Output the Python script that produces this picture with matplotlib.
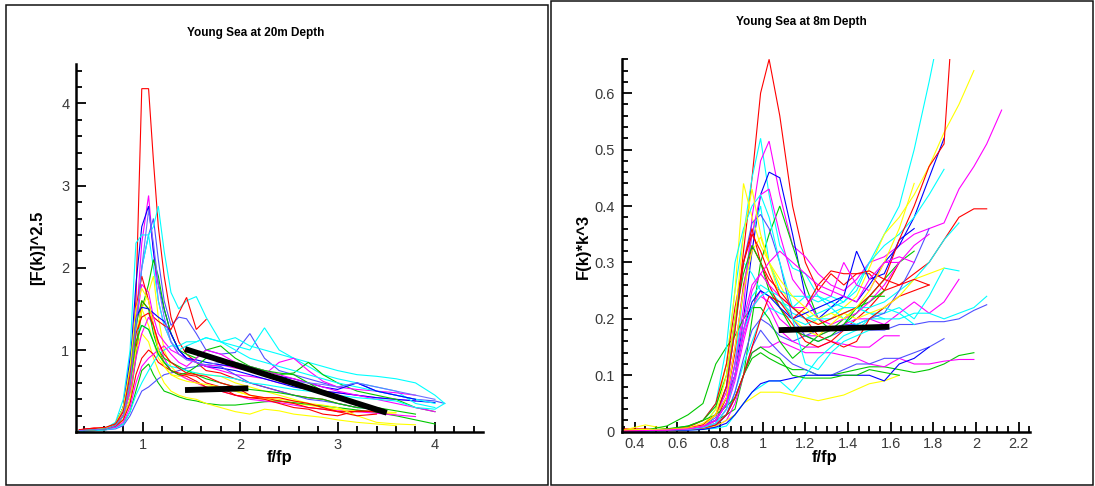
import matplotlib
matplotlib.use("Agg")
import matplotlib.pyplot as plt
from matplotlib.ticker import MultipleLocator, FixedLocator, FuncFormatter
from matplotlib.patches import Rectangle

plt.rcParams['font.family'] = ['Liberation Sans', 'DejaVu Sans']

# ---------------- data: left panel (20 m depth) ----------------
left_title = "Young Sea at 20m Depth"
left_ylabel = "[F(k)]^2.5"
left_xlabel = "f/fp"
XL = [0.35, 0.5, 0.62, 0.72, 0.8, 0.87, 0.93, 0.99, 1.06, 1.11, 1.16, 1.22, 1.29, 1.37, 1.45,
      1.55, 1.65, 1.8, 1.95, 2.1, 2.25, 2.4, 2.55, 2.7, 2.85, 3.0, 3.2, 3.4, 3.6, 3.8, 4.0, 4.1]
L01 = [0.03, 0.05, 0.04, 0.08, 0.2, 0.5, 1.6, 4.18, 4.18, 3.3, 2.5, 1.9, 1.4, 1.1, 0.95, 0.85, 0.75, 0.72, 0.65, 0.6, 0.55, 0.5, 0.45, 0.42, 0.4, 0.35, 0.3]
L02 = [0.02, 0.03, 0.05, 0.1, 0.25, 0.6, 1.3, 2.3, 2.88, 2.2, 1.6, 1.3, 1.1, 0.95, 0.9, 0.85, 0.8, 0.75, 0.7, 0.68, 0.65, 0.6, 0.58, 0.55, 0.5, 0.48, 0.45, 0.42, 0.4, 0.38]
L03 = [0.02, 0.03, 0.04, 0.1, 0.3, 0.8, 1.8, 2.5, 2.75, 2.2, 1.8, 1.5, 1.2, 1.0, 0.9, 0.85, 0.8, 0.78, 0.75, 0.7, 0.65, 0.6, 0.55, 0.52, 0.5, 0.48, 0.45, 0.42, 0.4, 0.38, 0.36]
L04 = [0.02, 0.02, 0.03, 0.06, 0.2, 0.5, 1.2, 2.0, 2.4, 2.6, 2.1, 1.6, 1.3, 1.4, 1.38, 1.2, 1.0, 0.95, 0.97, 1.2, 0.9, 0.75, 0.7, 0.65, 0.6, 0.55, 0.6, 0.5, 0.45, 0.4, 0.38, 0.35]
L05 = [0.02, 0.03, 0.04, 0.08, 0.2, 0.5, 1.2, 2.0, 2.4, 2.5, 2.75, 2.2, 1.7, 1.5, 1.6, 1.65, 1.4, 1.1, 1.15, 1.05, 1.0, 0.95, 0.9, 0.85, 0.8, 0.75, 0.7, 0.68, 0.65, 0.6, 0.45, 0.35]
L06 = [0.02, 0.03, 0.05, 0.12, 0.4, 1.0, 2.3, 2.4, 2.4, 2.0, 1.6, 1.3, 1.1, 1.0, 1.05, 1.1, 1.15, 1.1, 1.05, 1.0, 1.27, 1.0, 0.9, 0.8, 0.7, 0.65, 0.6, 0.55, 0.5, 0.35, 0.3]
L07 = [0.02, 0.03, 0.04, 0.07, 0.15, 0.4, 0.9, 1.5, 1.8, 2.1, 1.9, 1.5, 1.2, 1.0, 0.95, 0.9, 1.0, 1.05, 0.9, 0.8, 0.75, 0.7, 0.72, 0.85, 0.7, 0.6, 0.5, 0.45, 0.4, 0.3, 0.25]
L08 = [0.02, 0.02, 0.03, 0.06, 0.15, 0.4, 1.0, 1.5, 1.7, 1.9, 1.4, 1.0, 0.8, 0.7, 0.65, 0.6, 0.55, 0.55, 0.5, 0.45, 0.4, 0.38, 0.35, 0.33, 0.3, 0.28, 0.26, 0.25, 0.24]
L09 = [0.03, 0.04, 0.05, 0.1, 0.2, 0.5, 1.0, 1.6, 1.5, 1.4, 1.35, 1.3, 1.25, 1.45, 1.64, 1.25, 1.37]
L10 = [0.02, 0.03, 0.04, 0.08, 0.2, 0.6, 1.2, 1.5, 1.3, 1.1, 0.9, 0.8, 0.7, 0.68, 0.7, 0.72, 0.7, 0.68, 0.6, 0.55, 0.5, 0.45, 0.4, 0.35, 0.3, 0.27, 0.25, 0.24, 0.22]
L11 = [0.02, 0.03, 0.04, 0.06, 0.1, 0.25, 0.5, 0.75, 0.83, 0.7, 0.6, 0.5, 0.47, 0.43, 0.4, 0.38, 0.35, 0.33, 0.33, 0.35, 0.37, 0.38, 0.36, 0.34, 0.32, 0.3, 0.27, 0.24, 0.2, 0.15, 0.1]
L12 = [0.01, 0.02, 0.03, 0.04, 0.08, 0.2, 0.35, 0.5, 0.55, 0.6, 0.65, 0.7, 0.72, 0.75, 0.78, 0.8, 0.82, 0.8, 0.7, 0.6, 0.55, 0.5, 0.45, 0.4, 0.38, 0.35, 0.3, 0.28]
L13 = [0.02, 0.03, 0.04, 0.08, 0.2, 0.5, 1.0, 1.2, 1.1, 0.9, 0.75, 0.6, 0.5, 0.45, 0.42, 0.4, 0.35, 0.3, 0.25, 0.22, 0.28, 0.26, 0.22, 0.2, 0.18, 0.15, 0.12, 0.1, 0.08]
L14 = [0.03, 0.04, 0.05, 0.1, 0.25, 0.7, 1.3, 1.8, 1.7, 1.4, 1.2, 1.1, 1.0, 0.95, 0.9, 0.85, 0.8, 0.82, 0.78, 0.75, 0.7, 0.85, 0.9, 0.75, 0.62, 0.55, 0.52, 0.5, 0.48, 0.45]
L15 = [0.02, 0.03, 0.04, 0.08, 0.2, 0.5, 0.9, 1.2, 1.4, 1.3, 1.1, 0.9, 0.75, 0.7, 0.65, 0.6, 0.55, 0.5, 0.45, 0.4, 0.38, 0.36, 0.33, 0.3, 0.28, 0.26, 0.25, 0.23, 0.21, 0.19]
L16 = [0.02, 0.03, 0.04, 0.07, 0.15, 0.35, 0.7, 0.9, 1.0, 0.95, 0.85, 0.8, 0.75, 0.72, 0.7, 0.68, 0.6, 0.55, 0.45, 0.42, 0.42, 0.38, 0.35, 0.3, 0.28, 0.25, 0.25, 0.26]
L17 = [0.03, 0.04, 0.05, 0.1, 0.3, 0.8, 1.5, 1.9, 1.6, 1.3, 1.0, 0.85, 0.75, 0.7, 0.68, 0.62, 0.55, 0.5, 0.45, 0.42, 0.4, 0.35, 0.3, 0.28, 0.22, 0.2, 0.26, 0.25]
L18 = [0.01, 0.02, 0.03, 0.05, 0.1, 0.25, 0.45, 0.6, 0.75, 0.85, 0.95, 1.0, 1.05, 1.05, 1.1, 1.1, 1.15, 1.1, 1.0, 0.9, 0.85, 0.8, 0.75, 0.7, 0.65, 0.6, 0.55, 0.5, 0.45, 0.4, 0.35]
L19 = [0.02, 0.03, 0.05, 0.1, 0.3, 0.8, 1.3, 1.6, 1.5, 1.2, 1.0, 0.9, 0.85, 0.8, 0.75, 0.7, 0.65, 0.6, 0.55, 0.52, 0.5, 0.48, 0.45, 0.42, 0.4, 0.35, 0.3, 0.28]
L20 = [0.02, 0.03, 0.04, 0.1, 0.3, 0.9, 1.4, 1.52, 1.5, 1.45, 1.4, 1.35, 1.2, 1.0, 0.9, 0.88, 0.85, 0.82, 0.8, 0.75, 0.7, 0.68, 0.65, 0.6, 0.55, 0.52, 0.6, 0.5, 0.45, 0.4]
L21 = [0.02, 0.03, 0.04, 0.06, 0.12, 0.3, 0.6, 0.8, 0.9, 0.95, 1.0, 1.05, 0.95, 0.85, 0.8, 0.9, 1.0, 0.95, 0.85, 0.8, 0.75, 0.7, 0.65, 0.6, 0.55, 0.5, 0.45, 0.4, 0.35, 0.3, 0.25]
L22 = [0.02, 0.03, 0.05, 0.1, 0.3, 0.7, 1.2, 1.3, 1.25, 1.1, 0.95, 0.85, 0.8, 0.78, 0.75, 0.72, 0.7, 0.68, 0.65, 0.6, 0.58, 0.55, 0.52, 0.5, 0.48, 0.45, 0.42, 0.4, 0.38, 0.3, 0.28, 0.35]
L23 = [0.02, 0.03, 0.05, 0.1, 0.3, 0.8, 1.5, 1.75, 1.6, 1.3, 1.0, 0.8, 0.7, 0.65, 0.62, 0.6, 0.58, 0.55, 0.5, 0.45, 0.42, 0.4, 0.38, 0.35, 0.33, 0.3, 0.2, 0.12, 0.1, 0.09]
L24 = [0.02, 0.03, 0.04, 0.08, 0.2, 0.6, 1.1, 1.3, 1.25, 1.1, 0.95, 0.85, 0.75, 0.7, 0.72, 0.8, 0.9, 0.88, 0.85, 0.8, 0.75, 0.72, 0.7, 0.6, 0.5, 0.4, 0.35, 0.3, 0.26, 0.22]
L25 = [0.03, 0.05, 0.06, 0.1, 0.25, 0.7, 1.2, 1.4, 1.45, 1.3, 1.1, 0.95, 0.85, 0.78, 0.72, 0.7, 0.68, 0.6, 0.55, 0.45, 0.42, 0.42, 0.38, 0.35, 0.3, 0.25, 0.2, 0.22]
L26 = [0.02, 0.03, 0.04, 0.08, 0.2, 0.6, 1.3, 2.0, 2.7, 2.3, 1.8, 1.4, 1.1, 0.95, 0.88, 0.85, 0.82, 0.85, 0.8, 0.75, 0.7, 0.65, 0.62, 0.6, 0.58, 0.55, 0.6, 0.55, 0.5, 0.45, 0.4]
left_series = [L01, L02, L03, L04, L05, L06, L07, L08, L09, L10, L11, L12, L13,
               L14, L15, L16, L17, L18, L19, L20, L21, L22, L23, L24, L25, L26]
left_colors = ["red", "magenta", "blue", "blue2", "cyan", "cyan", "green", "yellow", "red",
               "yellow", "green", "blue2", "yellow", "magenta", "magenta", "red", "red", "cyan",
               "green", "blue", "magenta", "cyan", "yellow", "green", "red", "violet"]
# black reference lines (x pair, y pair)
left_fit1_x = [1.434, 3.505]
left_fit1_y = [1.012, 0.237]
left_fit2_x = [1.434, 2.084]
left_fit2_y = [0.513, 0.534]
left_xticks = [1, 2, 3, 4]
left_yticks = [1, 2, 3, 4]

# ---------------- data: right panel (8 m depth) ----------------
right_title = "Young Sea at 8m Depth"
right_ylabel = "F(k)*k^3"
right_xlabel = "f/fp"
XR = [0.35, 0.45, 0.55, 0.65, 0.72, 0.78, 0.83, 0.87, 0.91, 0.95, 0.99, 1.03, 1.08, 1.14, 1.2,
      1.26, 1.32, 1.38, 1.44, 1.5, 1.57, 1.64, 1.71, 1.78, 1.85, 1.92, 1.99, 2.05, 2.12]
R01 = [0.005, 0.005, 0.003, 0.005, 0.01, 0.03, 0.08, 0.18, 0.32, 0.45, 0.6, 0.66, 0.56, 0.4, 0.3, 0.25, 0.28, 0.26, 0.28, 0.28, 0.25, 0.3]
R02 = [0.0, 0.002, 0.003, 0.006, 0.01, 0.04, 0.12, 0.25, 0.35, 0.45, 0.52, 0.42, 0.33, 0.29, 0.28, 0.24, 0.22, 0.23, 0.25, 0.3, 0.35, 0.4, 0.5, 0.62, 0.75]
R03 = [0.002, 0.003, 0.003, 0.005, 0.01, 0.02, 0.05, 0.12, 0.22, 0.38, 0.48, 0.515, 0.42, 0.33, 0.31, 0.28, 0.26, 0.25, 0.27, 0.3, 0.31, 0.33, 0.35, 0.36, 0.37, 0.43, 0.47, 0.51, 0.57]
R04 = [0.002, 0.002, 0.004, 0.006, 0.01, 0.03, 0.06, 0.1, 0.2, 0.32, 0.42, 0.46, 0.45, 0.35, 0.24, 0.2, 0.22, 0.24, 0.23, 0.26, 0.3, 0.33, 0.38, 0.45, 0.52]
R05 = [0.003, 0.012, 0.005, 0.004, 0.01, 0.04, 0.12, 0.25, 0.44, 0.38, 0.33, 0.3, 0.26, 0.22, 0.21, 0.19, 0.2, 0.22, 0.24, 0.29, 0.35, 0.38, 0.42, 0.47, 0.53, 0.58, 0.64]
R06 = [0.002, 0.003, 0.004, 0.006, 0.01, 0.02, 0.03, 0.04, 0.1, 0.2, 0.3, 0.35, 0.4, 0.33, 0.26, 0.2, 0.18, 0.19, 0.21, 0.24, 0.27, 0.3, 0.32]
R07 = [0.003, 0.004, 0.003, 0.004, 0.008, 0.02, 0.06, 0.14, 0.26, 0.33, 0.3, 0.27, 0.25, 0.22, 0.2, 0.17, 0.16, 0.18, 0.2, 0.22, 0.25, 0.26, 0.28, 0.3, 0.34, 0.38, 0.395, 0.395]
R08 = [0.002, 0.003, 0.004, 0.005, 0.01, 0.02, 0.05, 0.12, 0.25, 0.35, 0.4, 0.3, 0.25, 0.24, 0.24, 0.23, 0.24, 0.23, 0.26, 0.3, 0.33, 0.35, 0.38, 0.42, 0.465]
R09 = [0.001, 0.002, 0.003, 0.005, 0.01, 0.03, 0.08, 0.18, 0.3, 0.28, 0.25, 0.24, 0.23, 0.21, 0.2, 0.2, 0.2, 0.21, 0.22, 0.22, 0.23, 0.25, 0.27, 0.3, 0.34, 0.37]
R10 = [0.001, 0.002, 0.003, 0.005, 0.008, 0.02, 0.05, 0.12, 0.2, 0.24, 0.26, 0.25, 0.23, 0.22, 0.24, 0.24, 0.23, 0.22, 0.22, 0.21, 0.21, 0.22, 0.2, 0.24, 0.29, 0.285]
R11 = [0.001, 0.002, 0.003, 0.004, 0.007, 0.015, 0.04, 0.1, 0.17, 0.22, 0.24, 0.23, 0.2, 0.18, 0.17, 0.17, 0.18, 0.19, 0.2, 0.2, 0.19, 0.21, 0.23, 0.21, 0.23, 0.27]
R12 = [0.001, 0.002, 0.003, 0.004, 0.006, 0.012, 0.03, 0.07, 0.12, 0.16, 0.2, 0.22, 0.21, 0.2, 0.19, 0.2, 0.21, 0.22, 0.22, 0.21, 0.2, 0.2, 0.21, 0.21, 0.2, 0.21, 0.22, 0.24]
R13 = [0.001, 0.002, 0.003, 0.004, 0.006, 0.012, 0.03, 0.07, 0.13, 0.18, 0.2, 0.19, 0.17, 0.16, 0.17, 0.18, 0.18, 0.19, 0.19, 0.18, 0.18, 0.19, 0.19, 0.195, 0.195, 0.2, 0.215, 0.225]
R14 = [0.001, 0.002, 0.003, 0.004, 0.006, 0.01, 0.03, 0.06, 0.1, 0.13, 0.14, 0.13, 0.12, 0.11, 0.11, 0.1, 0.1, 0.105, 0.11, 0.115, 0.115, 0.11, 0.105, 0.11, 0.12, 0.135, 0.14]
R15 = [0.001, 0.002, 0.002, 0.003, 0.005, 0.01, 0.02, 0.05, 0.1, 0.14, 0.15, 0.15, 0.16, 0.15, 0.14, 0.14, 0.14, 0.135, 0.13, 0.12, 0.115, 0.13, 0.12, 0.12, 0.125, 0.128, 0.128]
R16 = [0.001, 0.002, 0.003, 0.004, 0.006, 0.01, 0.03, 0.06, 0.1, 0.15, 0.18, 0.16, 0.14, 0.12, 0.11, 0.1, 0.1, 0.11, 0.12, 0.12, 0.13, 0.13, 0.14, 0.15, 0.165]
R17 = [0.002, 0.003, 0.003, 0.004, 0.005, 0.01, 0.02, 0.03, 0.05, 0.06, 0.07, 0.07, 0.07, 0.065, 0.06, 0.055, 0.06, 0.065, 0.075, 0.085, 0.09, 0.1]
R18 = [0.001, 0.001, 0.002, 0.003, 0.004, 0.006, 0.01, 0.03, 0.05, 0.07, 0.08, 0.09, 0.09, 0.07, 0.1, 0.13, 0.15, 0.17, 0.18, 0.2, 0.2]
R19 = [0.001, 0.002, 0.002, 0.003, 0.004, 0.008, 0.015, 0.03, 0.05, 0.07, 0.085, 0.09, 0.09, 0.095, 0.1, 0.1, 0.1, 0.1, 0.1, 0.1, 0.09, 0.12, 0.13, 0.15]
R20 = [0.002, 0.003, 0.01, 0.03, 0.05, 0.12, 0.15, 0.17, 0.2, 0.22, 0.22, 0.2, 0.16, 0.13, 0.15, 0.17, 0.18, 0.2, 0.22, 0.23, 0.25]
R21 = [0.001, 0.002, 0.004, 0.01, 0.02, 0.03, 0.045, 0.06, 0.1, 0.14, 0.15, 0.14, 0.13, 0.1, 0.095, 0.095, 0.095, 0.1, 0.1, 0.11, 0.105, 0.1]
R22 = [0.001, 0.002, 0.003, 0.005, 0.008, 0.015, 0.04, 0.09, 0.16, 0.22, 0.25, 0.22, 0.18, 0.16, 0.15, 0.15, 0.16, 0.155, 0.15, 0.15, 0.17, 0.17]
R23 = [0.002, 0.002, 0.003, 0.005, 0.01, 0.025, 0.08, 0.2, 0.3, 0.37, 0.385, 0.36, 0.3, 0.2, 0.17, 0.16, 0.17, 0.18, 0.19, 0.2, 0.21, 0.25, 0.3, 0.36]
R24 = [0.002, 0.003, 0.004, 0.006, 0.012, 0.03, 0.07, 0.15, 0.25, 0.35, 0.42, 0.43, 0.35, 0.27, 0.24, 0.2, 0.19, 0.2, 0.21, 0.23, 0.26, 0.3, 0.33, 0.35]
R25 = [0.001, 0.002, 0.004, 0.008, 0.02, 0.05, 0.15, 0.3, 0.36, 0.4, 0.42, 0.38, 0.3, 0.22, 0.2, 0.21, 0.22, 0.2, 0.19, 0.2, 0.22, 0.21, 0.19]
R26 = [0.002, 0.003, 0.004, 0.008, 0.02, 0.05, 0.12, 0.22, 0.3, 0.36, 0.3, 0.26, 0.22, 0.19, 0.16, 0.15, 0.16, 0.15, 0.16, 0.2, 0.22, 0.24, 0.25, 0.26]
R27 = [0.002, 0.003, 0.004, 0.007, 0.015, 0.03, 0.06, 0.15, 0.25, 0.32, 0.345, 0.3, 0.24, 0.2, 0.18, 0.17, 0.19, 0.21, 0.2, 0.21, 0.22, 0.24, 0.27, 0.28, 0.29]
R28 = [0.002, 0.003, 0.005, 0.01, 0.02, 0.045, 0.1, 0.2, 0.28, 0.33, 0.3, 0.25, 0.22, 0.18, 0.17, 0.16, 0.17, 0.19, 0.22, 0.24, 0.24]
R29 = [0.001, 0.002, 0.003, 0.005, 0.01, 0.02, 0.05, 0.1, 0.18, 0.23, 0.25, 0.24, 0.22, 0.2, 0.21, 0.22, 0.23, 0.24, 0.32, 0.27, 0.28, 0.34, 0.36]
R30 = [0.001, 0.002, 0.003, 0.004, 0.006, 0.012, 0.03, 0.06, 0.1, 0.15, 0.2, 0.24, 0.23, 0.2, 0.22, 0.26, 0.285, 0.28, 0.28, 0.285, 0.27, 0.26, 0.27, 0.26]
R31 = [0.001, 0.002, 0.003, 0.004, 0.007, 0.015, 0.04, 0.1, 0.18, 0.22, 0.24, 0.25, 0.24, 0.2, 0.12, 0.11, 0.14, 0.16, 0.17, 0.18, 0.19]
R32 = [0.001, 0.002, 0.003, 0.005, 0.009, 0.02, 0.05, 0.12, 0.2, 0.26, 0.28, 0.26, 0.24, 0.22, 0.22, 0.25, 0.24, 0.3, 0.26, 0.25, 0.3, 0.3]
R33 = [0.002, 0.003, 0.004, 0.006, 0.012, 0.03, 0.08, 0.18, 0.3, 0.35, 0.32, 0.28, 0.24, 0.22, 0.2, 0.19, 0.2, 0.21, 0.22, 0.24, 0.27, 0.34, 0.4, 0.47, 0.51, 0.9]
R34 = [0.003, 0.004, 0.004, 0.006, 0.01, 0.03, 0.1, 0.2, 0.35, 0.43, 0.35, 0.3, 0.27, 0.24, 0.22, 0.2, 0.21, 0.2, 0.22, 0.25, 0.3, 0.36, 0.44]
R35 = [0.001, 0.002, 0.003, 0.005, 0.01, 0.02, 0.05, 0.1, 0.18, 0.25, 0.28, 0.3, 0.32, 0.3, 0.28, 0.26, 0.25, 0.24, 0.23, 0.27, 0.3, 0.31, 0.3]
right_series = [R01, R02, R03, R04, R05, R06, R07, R08, R09, R10, R11, R12, R13, R14, R15, R16, R17, R18,
                R19, R20, R21, R22, R23, R24, R25, R26, R27, R28, R29, R30, R31, R32, R33, R34, R35]
right_colors = ["red", "cyan", "magenta", "blue", "yellow", "green", "red", "cyan", "cyan", "cyan",
                "magenta", "cyan", "blue2", "green", "magenta", "blue2", "yellow", "cyan", "blue",
                "green", "green", "magenta", "blue2", "magenta", "cyan", "red", "yellow", "green",
                "blue", "red", "cyan", "magenta", "red", "yellow", "magenta"]
right_fit_x = [1.075, 1.594]
right_fit_y = [0.180, 0.186]
right_xticks = [0.4, 0.6, 0.8, 1.0, 1.2, 1.4, 1.6, 1.8, 2.0, 2.2]
right_yticks = [0.0, 0.1, 0.2, 0.3, 0.4, 0.5, 0.6]

# ---------------- style ----------------
palette = {"red": "#ff0000", "green": "#00c800", "blue": "#0000ff", "blue2": "#5050ff",
           "violet": "#7070ff", "cyan": "#00ffff", "yellow": "#ffff00", "magenta": "#ff00ff"}
W, H = 1095, 486
fig = plt.figure(figsize=(W / 100, H / 100), dpi=100)


def fx(px):
    return px / W


def fy(py):
    return 1 - py / H


# panel frames
fig.patches.append(Rectangle((fx(6.3), fy(485)), fx(548.3) - fx(6.3), fy(5) - fy(485),
                             transform=fig.transFigure, fill=False, lw=1.1, ec="#111111"))
fig.patches.append(Rectangle((fx(550.5), fy(485)), fx(1093) - fx(550.5), fy(1.3) - fy(485),
                             transform=fig.transFigure, fill=False, lw=1.1, ec="#111111"))


def fmt(v, pos):
    s = ("%.1f" % v).rstrip("0").rstrip(".")
    return s if s else "0"


def style_axes(ax):
    for s in ("top", "right"):
        ax.spines[s].set_visible(False)
    for s in ("left", "bottom"):
        ax.spines[s].set_linewidth(1.8)
        ax.spines[s].set_color("black")
    ax.tick_params(which="both", direction="in", colors="black", labelcolor="#3a3a3a",
                   labelsize=10.5, width=1.3)
    ax.tick_params(which="major", length=7)
    ax.tick_params(which="minor", length=4.5)
    ax.tick_params(axis="y", pad=5)
    ax.tick_params(axis="x", pad=4)
    ax.xaxis.set_major_formatter(FuncFormatter(fmt))
    ax.yaxis.set_major_formatter(FuncFormatter(fmt))


# ---------- left axes ----------
axL = fig.add_axes([fx(76.3), fy(432.2), fx(482.7) - fx(76.3), fy(64) - fy(432.2)])
for ys, c in zip(left_series, left_colors):
    axL.plot(XL[:len(ys)], ys, color=palette[c], lw=0.8, solid_joinstyle="miter")
axL.plot(left_fit1_x, left_fit1_y, color="black", lw=4.2, solid_capstyle="butt")
axL.plot(left_fit2_x, left_fit2_y, color="black", lw=4.2, solid_capstyle="butt")
axL.set_xlim(0.318, 4.49)
axL.set_ylim(0, 4.48)
axL.xaxis.set_major_locator(FixedLocator(left_xticks))
axL.yaxis.set_major_locator(FixedLocator(left_yticks))
axL.xaxis.set_minor_locator(MultipleLocator(0.2))
axL.yaxis.set_minor_locator(MultipleLocator(0.2))
style_axes(axL)

# ---------- right axes ----------
axR = fig.add_axes([fx(621.7), fy(431.7), fx(1030) - fx(621.7), fy(59.3) - fy(431.7)])
for ys, c in zip(right_series, right_colors):
    axR.plot(XR[:len(ys)], ys, color=palette[c], lw=0.8, solid_joinstyle="miter")
axR.plot(right_fit_x, right_fit_y, color="black", lw=4.2, solid_capstyle="butt")
axR.set_xlim(0.339, 2.253)
axR.set_ylim(0, 0.66)
axR.xaxis.set_major_locator(FixedLocator(right_xticks))
axR.yaxis.set_major_locator(FixedLocator(right_yticks))
axR.xaxis.set_minor_locator(MultipleLocator(0.05))
axR.yaxis.set_minor_locator(MultipleLocator(0.02))
style_axes(axR)

# ---------- texts ----------
fig.text(fx(256), fy(33), left_title, ha="center", va="center", fontsize=8.5, fontweight="bold")
fig.text(fx(801), fy(22), right_title, ha="center", va="center", fontsize=8.5, fontweight="bold")
fig.text(fx(38), fy(248), left_ylabel, rotation=90, ha="center", va="center", fontsize=12, fontweight="bold")
fig.text(fx(583), fy(246), right_ylabel, rotation=90, ha="center", va="center", fontsize=12, fontweight="bold")
fig.text(fx(279.4), fy(457), left_xlabel, ha="center", va="center", fontsize=12, fontweight="bold")
fig.text(fx(824.7), fy(457), right_xlabel, ha="center", va="center", fontsize=12, fontweight="bold")

fig.savefig("out.png", dpi=100)
